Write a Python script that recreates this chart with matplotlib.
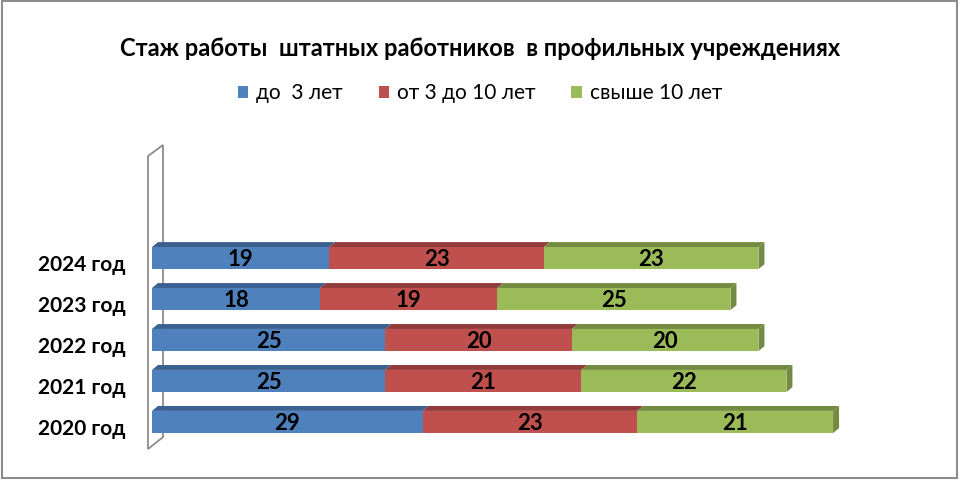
import matplotlib.pyplot as plt
import matplotlib.transforms as mtransforms
from matplotlib.patches import Polygon, Rectangle, Patch

# data
years = ["2020 год", "2021 год", "2022 год", "2023 год", "2024 год"]
series_names = ["до  3 лет", "от 3 до 10 лет", "свыше 10 лет"]
under_3 = [29, 25, 25, 18, 19]
from_3_to_10 = [23, 21, 20, 19, 23]
over_10 = [21, 22, 20, 25, 23]
title = "Стаж работы  штатных работников  в профильных учреждениях"

colors = ["#4F81BD", "#C0504D", "#9BBB59"]
darks = ["#3B6190", "#913C3A", "#728B40"]

plt.rcParams['font.family'] = ['Lato', 'DejaVu Sans']

fig = plt.figure(figsize=(9.6, 4.8), dpi=100)
ax = fig.add_axes([152 / 960, 1 - 449 / 480, 80 * 9.33 / 960, 304 / 480])
ax.set_xlim(0, 80)
ax.set_ylim(-0.66, 6.76)
for s in ax.spines.values():
    s.set_visible(False)
ax.set_xticks([])
ax.set_yticks(range(len(years)))
ax.set_yticklabels(years, fontsize=15, fontweight='bold')
ax.tick_params(axis='y', length=0, pad=19)
# year labels sit a little below the bar centre, as in the original
shift = mtransforms.ScaledTranslation(0, -5 / 100, fig.dpi_scale_trans)
for lab in ax.get_yticklabels():
    lab.set_transform(lab.get_transform() + shift)

# back wall outline (3D look)
wx0, wx1 = -0.43, 1.18
wall = Polygon([(wx0, -0.66), (wx0, 6.49), (wx1, 6.76), (wx1, -0.37)],
               closed=True, fill=True, fc='white', ec='#8C8C8C', lw=1.3,
               clip_on=False, zorder=1)
ax.add_patch(wall)

h = 0.54     # bar height
dx = 0.64    # depth offset in x
dy = 0.12    # depth offset in y

series = [under_3, from_3_to_10, over_10]
for i in range(len(years)):
    left = 0
    for k, vals in enumerate(series):
        v = vals[i]
        ax.barh(i, v, left=left, height=h, color=colors[k], zorder=3)
        top = i + h / 2
        ax.add_patch(Polygon([(left, top), (left + v, top),
                              (left + v + dx, top + dy), (left + dx, top + dy)],
                             closed=True, fc=darks[k], ec='none', zorder=2,
                             clip_on=False))
        ax.text(left + v / 2, i - 0.04, str(v), ha='center', va='center',
                fontsize=16, fontweight='bold', color='black', zorder=5)
        left += v
    # right side face of the last segment
    bot = i - h / 2
    ax.add_patch(Polygon([(left, bot), (left, i + h / 2),
                          (left + dx, i + h / 2 + dy), (left + dx, bot + dy)],
                         closed=True, fc=darks[-1], ec='none', zorder=2,
                         clip_on=False))

fig.text(0.5, 1 - 48 / 480, title, ha='center', va='center',
         fontsize=17, fontweight='bold')

handles = [Patch(facecolor=c) for c in colors]
fig.legend(handles, series_names, loc='center', bbox_to_anchor=(0.5, 1 - 93 / 480),
           ncol=3, frameon=False, fontsize=15, handlelength=0.5,
           handleheight=0.5, handletextpad=0.4, columnspacing=1.7)

fig.add_artist(Rectangle((0.002, 0.005), 0.995, 0.992, transform=fig.transFigure,
                         fill=False, ec='#8C8C8C', lw=1.5))

fig.savefig("out.png", dpi=100)
